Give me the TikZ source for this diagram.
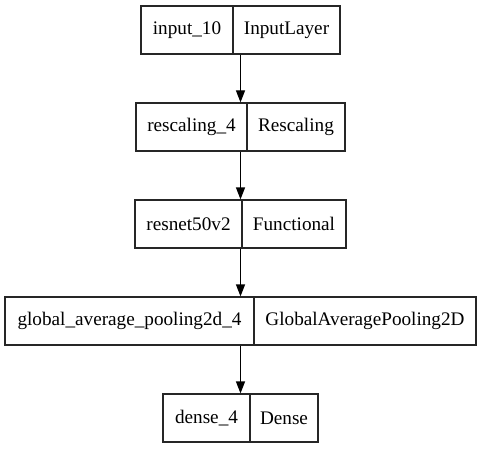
\documentclass[tikz,border=0pt]{standalone}
\usepackage{fontspec}
\setmainfont{Liberation Serif}
\usetikzlibrary{arrows.meta}

\tikzset{
  layer/.style={draw=black!85, line width=1.2pt, minimum height=48pt, inner sep=0pt},
  field/.style={font=\fontsize{19.2}{22}\selectfont, inner sep=0pt},
  link/.style={-{Triangle[length=12pt,width=9pt]}, line width=1.2pt}
}

\begin{document}
\begin{tikzpicture}[x=1pt,y=-1pt]

  \useasboundingbox (0,0) rectangle (481,449);

  \begin{scope}[every node/.style={layer}]
    \node[minimum width=199pt] (input)   at (240.5,30)  {};
    \node[minimum width=209pt] (rescale) at (240.5,127) {};
    \node[minimum width=211pt] (resnet)  at (240.5,224) {};
    \node[minimum width=471pt] (pool)    at (240.5,321) {};
    \node[minimum width=155pt] (dense)   at (240.5,418) {};
  \end{scope}

  % dividers
  \begin{scope}[draw=black!85, line width=1.2pt]
    \draw (233,6)   -- (233,54);
    \draw (247,103) -- (247,151);
    \draw (242,200) -- (242,248);
    \draw (254,297) -- (254,345);
    \draw (250,394) -- (250,442);
  \end{scope}

  \begin{scope}[every node/.style={field}]
    \node (input l)   at (187,30)    {input\_10};
    \node (input r)   at (286.5,30)  {InputLayer};
    \node (rescale l) at (191.5,127) {rescaling\_4};
    \node (rescale r) at (296,127)   {Rescaling};
    \node (resnet l)  at (188.5,224) {resnet50v2};
    \node (resnet r)  at (294,224)   {Functional};
    \node (pool l)    at (129.5,321) {global\_average\_pooling2d\_4};
    \node (pool r)    at (365,321)   {GlobalAveragePooling2D};
    \node (dense l)   at (206.5,418) {dense\_4};
    \node (dense r)   at (284,418)   {Dense};
  \end{scope}

  \draw[link] (input)   -- (rescale);
  \draw[link] (rescale) -- (resnet);
  \draw[link] (resnet)  -- (pool);
  \draw[link] (pool)    -- (dense);

\end{tikzpicture}
\end{document}
